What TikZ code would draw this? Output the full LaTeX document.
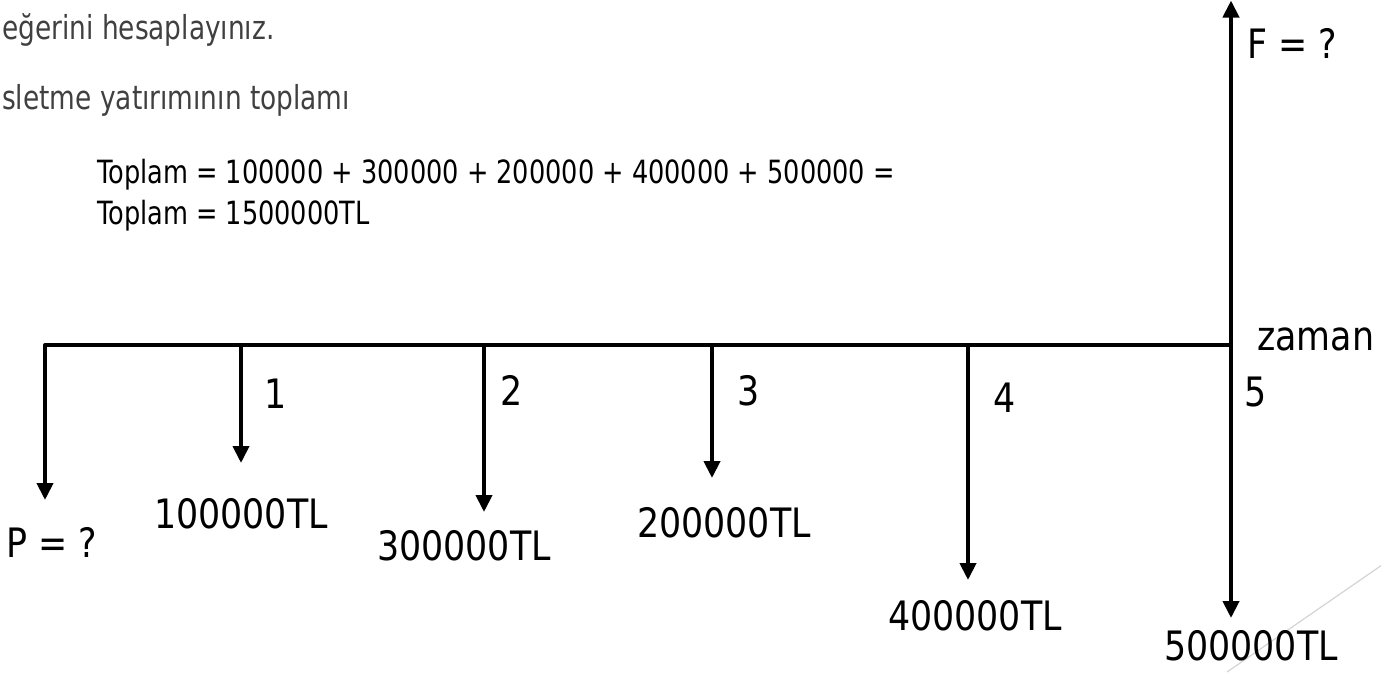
\documentclass[tikz,border=0pt]{standalone}
\usepackage{fontspec}
\setmainfont[FakeStretch=0.86]{DejaVu Sans}
\newfontfamily\slidefont[FakeStretch=0.8]{DejaVu Sans}
\usetikzlibrary{arrows.meta}
\definecolor{cG}{HTML}{404040}
\definecolor{cL}{HTML}{d4d4d4}
\tikzset{
  axis/.style={line width=4pt,line cap=round,black},
  flow/.style={-{Triangle[width=16pt,length=17pt]},line width=4pt,black},
  slide/.style={anchor=base west,inner sep=0pt,text=cG,font=\slidefont\fontsize{33}{40}\selectfont},
  sumtext/.style={anchor=base west,inner sep=0pt,font=\slidefont\fontsize{32}{38}\selectfont},
  tick/.style={inner sep=0pt,font=\fontsize{40.5}{48}\selectfont},
  amount/.style={inner sep=0pt,font=\fontsize{40.5}{48}\selectfont},
  deco/.style={line width=1.2pt,cL},
}

\begin{document}
\begin{tikzpicture}[x=1pt,y=-1pt]
  \clip (0,0) rectangle (1381,672);
  \draw[deco] (1227,672) -- (1395,556);
  % slide text
  \node[slide] (q1) at (2,39) {eğerini hesaplayınız.};
  \node[slide] (q2) at (2,109) {sletme yatırımının toplamı};
  \node[sumtext] (s1) at (97,183) {Toplam = 100000 + 300000 + 200000 + 400000 + 500000 =};
  \node[sumtext] (s2) at (97,224) {Toplam = 1500000TL};
  % time line
  \foreach \i/\x/\y in {0/45/500,1/241/463,2/484/512,3/712/478,4/968/580,5/1231/618}{
    \coordinate (t\i) at (\x,345);
    \coordinate (e\i) at (\x,\y);
    \draw[flow] (t\i) -- (e\i);
  }
  \draw[axis] (t0) -- (t5);
  \coordinate (fv) at (1231,0.5);
  \draw[flow] (t5) -- (fv);
  \foreach \i/\x/\y in {1/276/394,2/512/390,3/749/391,4/1005/398,5/1256/392}{
    \node[tick] (n\i) at (\x,\y) {\i};
  }
  \node[tick,anchor=base west] (zaman) at (1257,350) {zaman};
  \node[tick] (fq) at (1292,43) {F = ?};
  \node[amount] (pq) at (52,542) {P = ?};
  \foreach \i/\x/\y/\v in {1/241/514/100000,2/464/546/300000,3/724/523/200000,4/975/616/400000,5/1251/646/500000}{
    \node[amount] (a\i) at (\x,\y) {\v TL};
  }
\end{tikzpicture}
\end{document}
